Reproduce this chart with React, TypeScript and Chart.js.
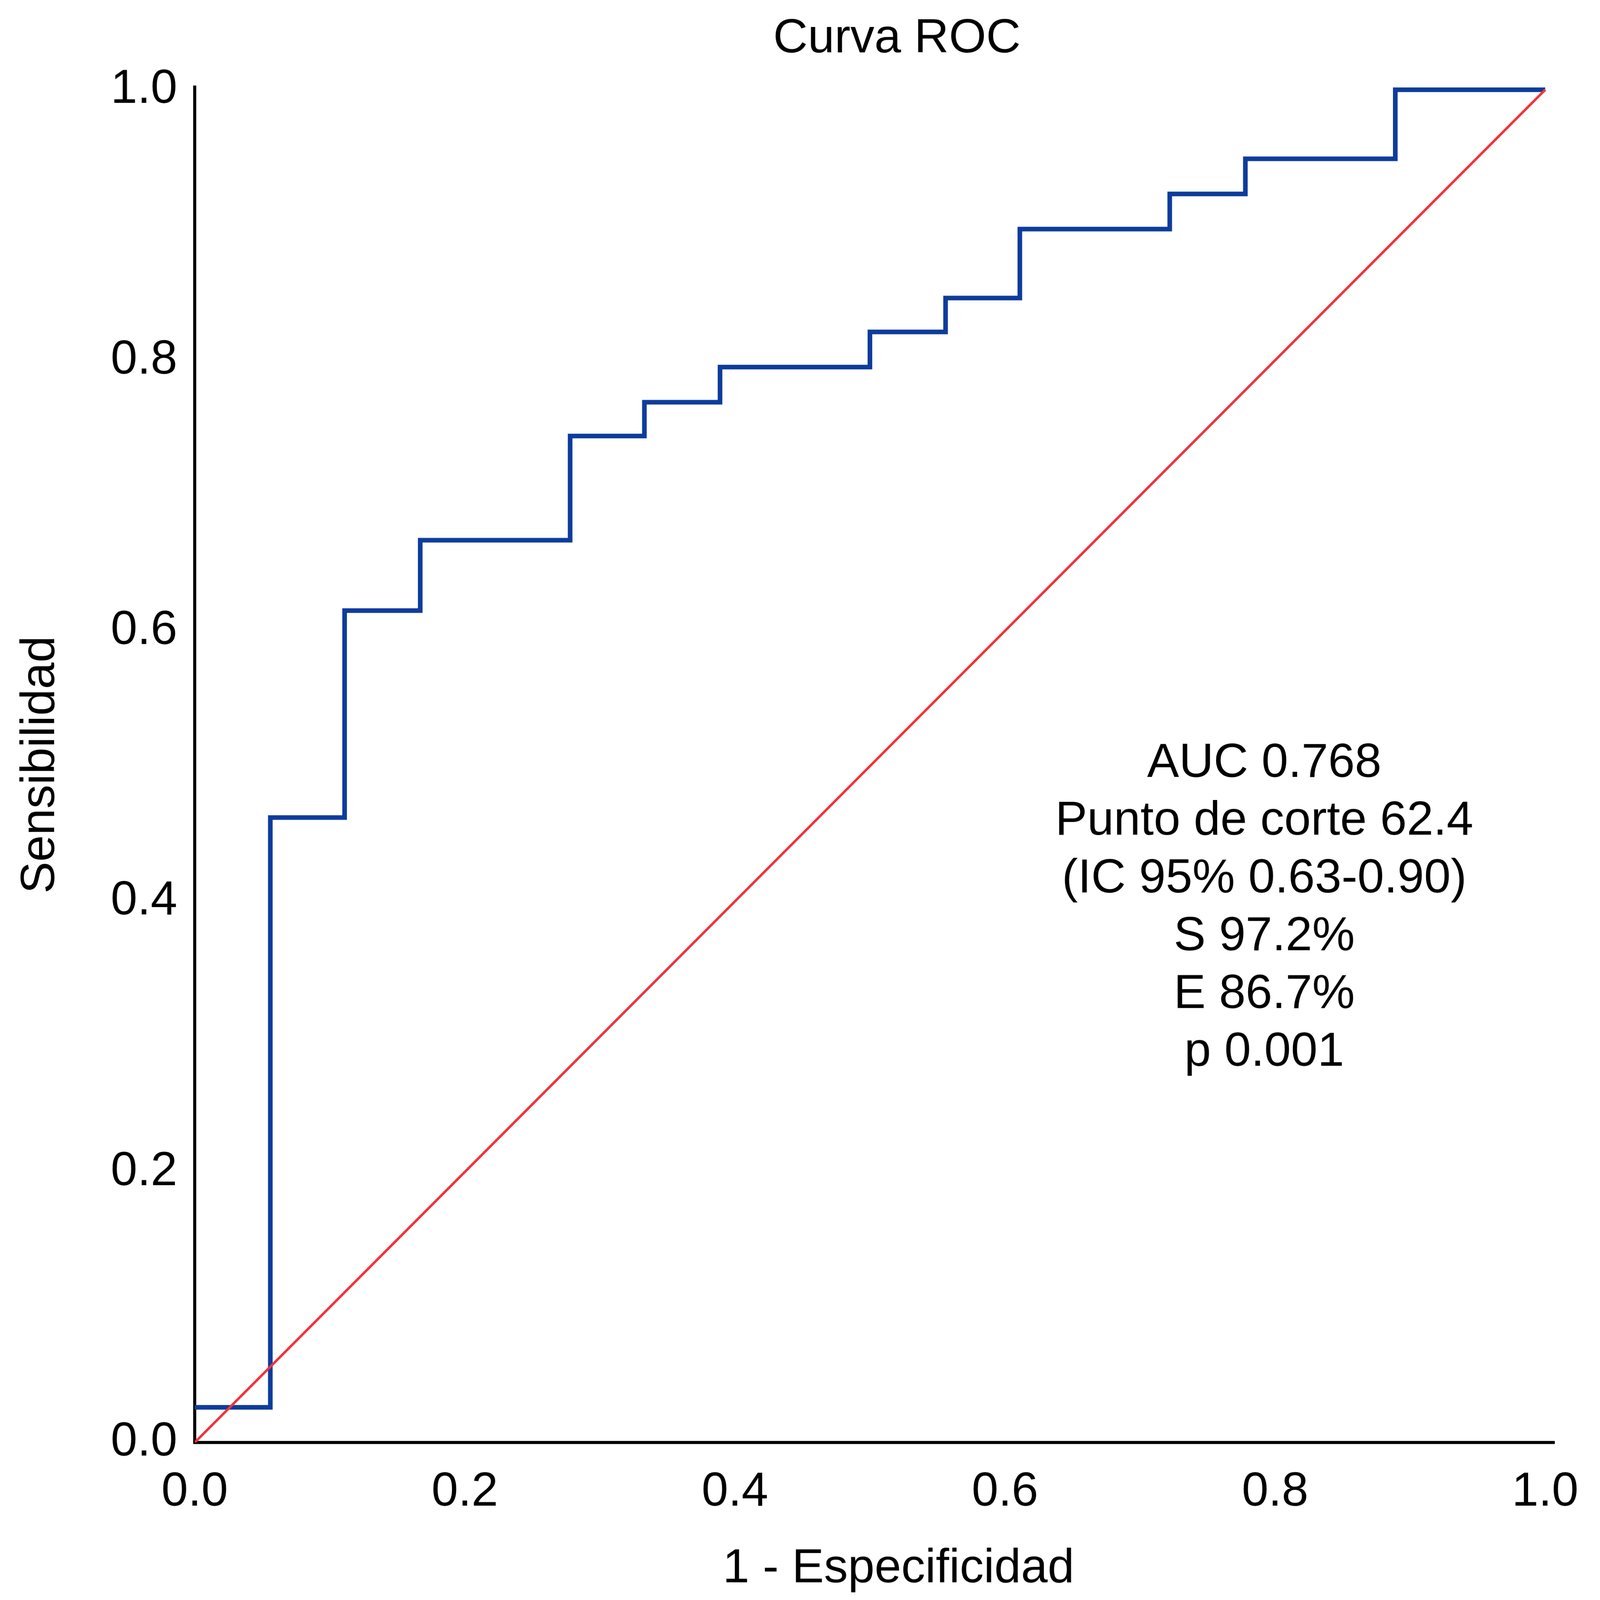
import React, { useEffect, useRef } from "react";
import { Chart, registerables } from "chart.js";

Chart.register(...registerables);

// ROC curve vertices (1 - specificity, sensitivity)
const FPR = [0, 0.056, 0.111, 0.167, 0.278, 0.333, 0.389, 0.5, 0.556, 0.611, 0.722, 0.778, 0.889, 1.0];
const TPR = [0.026, 0.462, 0.615, 0.667, 0.744, 0.769, 0.795, 0.821, 0.846, 0.897, 0.923, 0.949, 1.0, 1.0];

// Reference diagonal
const DIAG_X = [0, 1];
const DIAG_Y = [0, 1];

const X_TICKS = [0, 0.2, 0.4, 0.6, 0.8, 1.0];
const Y_TICKS = [0, 0.2, 0.4, 0.6, 0.8, 1.0];

const TITLE = "Curva ROC";
const X_TITLE = "1 - Especificidad";
const Y_TITLE = "Sensibilidad";

const ANNOTATION = [
  "AUC 0.768",
  "Punto de corte 62.4",
  "(IC 95% 0.63-0.90)",
  "S 97.2%",
  "E 86.7%",
  "p 0.001",
];
const ANNOT_X = 0.792;
const ANNOT_Y = 0.492;

const W = 4142;
const H = 4154;
const FONT = '"Liberation Sans", Arial, Helvetica, sans-serif';
const FONT_SIZE = 124;

const textPlugin = {
  id: "rocTexts",
  afterDraw(chart: any) {
    const ctx = chart.ctx as CanvasRenderingContext2D;
    const xs = chart.scales.x;
    const ys = chart.scales.y;
    ctx.save();
    ctx.fillStyle = "#000";
    ctx.font = `${FONT_SIZE}px ${FONT}`;
    ctx.textAlign = "center";
    ctx.textBaseline = "alphabetic";
    ctx.fillText(TITLE, 2322, 136);
    ctx.fillText(X_TITLE, 2326, 4108);
    const ax = xs.getPixelForValue(ANNOT_X);
    const ay = ys.getPixelForValue(ANNOT_Y);
    ANNOTATION.forEach((t, i) => ctx.fillText(t, ax, ay + i * 150));
    ctx.restore();
  },
};

export default function App() {
  const ref = useRef<HTMLCanvasElement | null>(null);

  useEffect(() => {
    if (!ref.current) return;
    const tickFont = { family: FONT, size: FONT_SIZE };
    const chart = new Chart(ref.current, {
      type: "scatter",
      data: {
        datasets: [
          {
            label: "Referencia",
            data: DIAG_X.map((v, i) => ({ x: v, y: DIAG_Y[i] })),
            borderColor: "#EE3339",
            backgroundColor: "#EE3339",
            borderWidth: 6.5,
            pointRadius: 0,
            showLine: true,
            fill: false,
          },
          {
            label: "ROC",
            data: FPR.map((v, i) => ({ x: v, y: TPR[i] })),
            borderColor: "#0D3C9C",
            backgroundColor: "#0D3C9C",
            borderWidth: 12,
            pointRadius: 0,
            showLine: true,
            fill: false,
            stepped: "before",
            borderJoinStyle: "miter",
            borderCapStyle: "butt",
          },
        ],
      } as any,
      options: {
        responsive: false,
        animation: false,
        devicePixelRatio: 1,
        events: [],
        layout: { padding: { top: 226, right: 109, left: 0, bottom: 0 } },
        plugins: {
          legend: { display: false },
          tooltip: { enabled: false },
          title: { display: false },
        },
        scales: {
          x: {
            type: "linear",
            min: 0,
            max: 1.0071,
            afterBuildTicks: (s: any) => {
              s.ticks = X_TICKS.map((v) => ({ value: v }));
            },
            afterFit: (s: any) => {
              s.height = 409;
            },
            grid: { display: false, drawTicks: false },
            border: { display: true, color: "#000", width: 8 },
            ticks: {
              padding: 55,
              color: "#000",
              font: tickFont,
              maxRotation: 0,
              autoSkip: false,
              callback: (v: any) => Number(v).toFixed(1),
            },
          },
          y: {
            type: "linear",
            min: 0,
            max: 1.002,
            afterBuildTicks: (s: any) => {
              s.ticks = Y_TICKS.map((v) => ({ value: v }));
            },
            afterFit: (s: any) => {
              s.width = 504;
            },
            grid: { display: false, drawTicks: false },
            border: { display: true, color: "#000", width: 8 },
            title: {
              display: true,
              text: Y_TITLE,
              color: "#000",
              font: tickFont,
              padding: { top: 31, bottom: 0 },
            },
            ticks: {
              padding: 45,
              color: "#000",
              font: tickFont,
              autoSkip: false,
              callback: (v: any) => Number(v).toFixed(1),
            },
          },
        },
      } as any,
      plugins: [textPlugin],
    });
    return () => chart.destroy();
  }, []);

  return (
    <div
      style={{
        position: "fixed",
        left: 0,
        top: 0,
        width: "100vw",
        height: "100vh",
        background: "#fff",
        overflow: "hidden",
      }}
    >
      <canvas
        ref={ref}
        width={W}
        height={H}
        style={{ width: "100vw", height: "100vh", display: "block" }}
      />
    </div>
  );
}
